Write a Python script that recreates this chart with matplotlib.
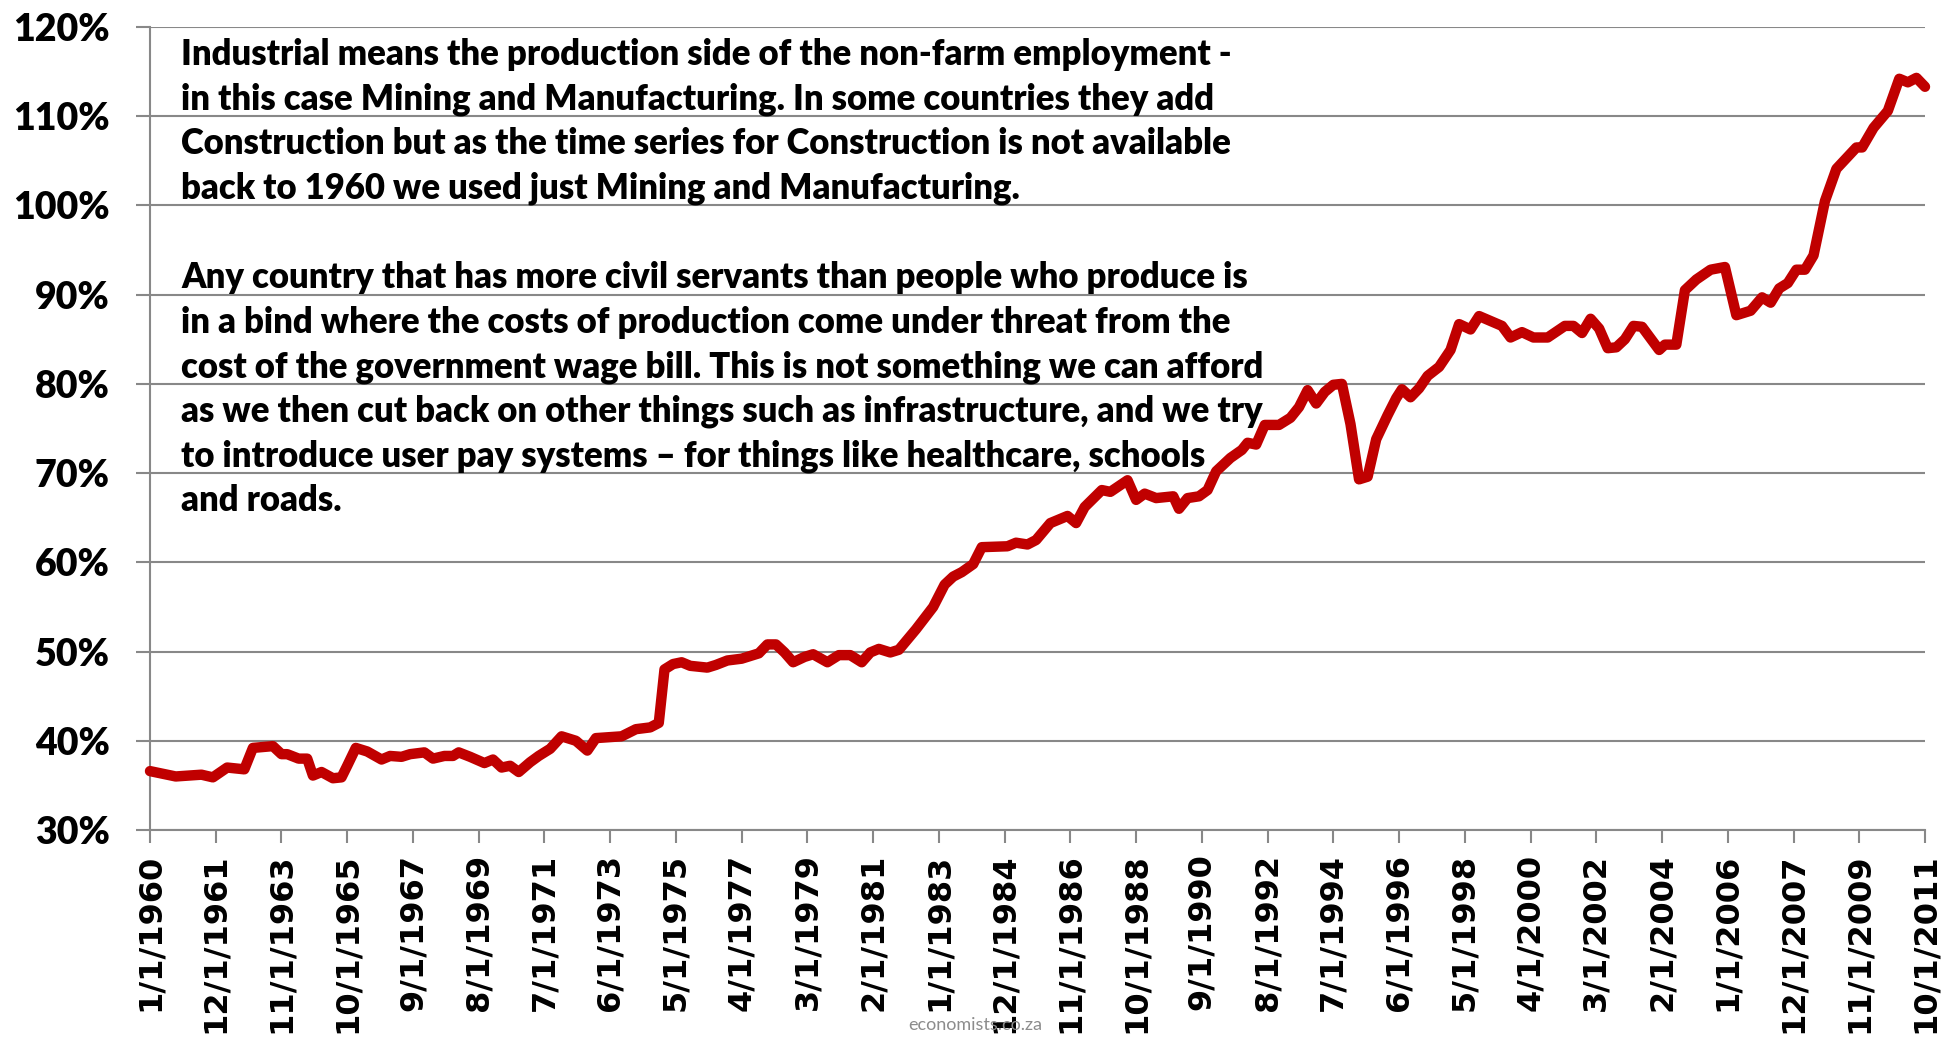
import matplotlib
matplotlib.use("Agg")
import matplotlib.pyplot as plt

# ---- data ----
dates = [
    "1960-01", "1960-10", "1961-07", "1961-11", "1962-04", "1962-10", "1963-01", "1963-08",
    "1963-11", "1964-01", "1964-05", "1964-08", "1964-10", "1965-01", "1965-05", "1965-08",
    "1965-10", "1966-01", "1966-05", "1966-10", "1967-01", "1967-05", "1967-08", "1968-01",
    "1968-04", "1968-08", "1968-11", "1969-01", "1969-05", "1969-10", "1970-01", "1970-04",
    "1970-07", "1970-10", "1971-02", "1971-05", "1971-09", "1972-01", "1972-06", "1972-10",
    "1973-01", "1973-10", "1974-03", "1974-08", "1974-11", "1975-01", "1975-04", "1975-07",
    "1975-10", "1976-04", "1976-07", "1976-11", "1977-04", "1977-10", "1978-01", "1978-04",
    "1978-07", "1978-10", "1979-02", "1979-05", "1979-10", "1980-02", "1980-06", "1980-10",
    "1981-01", "1981-04", "1981-08", "1981-11", "1982-05", "1982-11", "1983-03", "1983-06",
    "1983-09", "1984-01", "1984-04", "1985-01", "1985-04", "1985-08", "1985-11", "1986-04",
    "1986-10", "1987-01", "1987-04", "1987-10", "1988-01", "1988-07", "1988-10", "1989-01",
    "1989-05", "1989-11", "1990-01", "1990-04", "1990-08", "1990-11", "1991-02", "1991-07",
    "1991-11", "1992-01", "1992-04", "1992-07", "1992-12", "1993-04", "1993-07", "1993-10",
    "1994-01", "1994-04", "1994-07", "1994-10", "1995-01", "1995-04", "1995-07", "1995-10",
    "1996-02", "1996-05", "1996-07", "1996-10", "1997-01", "1997-04", "1997-08", "1997-12",
    "1998-03", "1998-07", "1998-10", "1999-06", "1999-09", "2000-01", "2000-05", "2000-10",
    "2001-04", "2001-07", "2001-10", "2002-01", "2002-04", "2002-07", "2002-10", "2003-01",
    "2003-04", "2003-07", "2004-01", "2004-03", "2004-07", "2004-10", "2005-02", "2005-07",
    "2005-12", "2006-04", "2006-09", "2007-01", "2007-04", "2007-07", "2007-10", "2008-01",
    "2008-04", "2008-07", "2008-11", "2009-03", "2009-10", "2009-12", "2010-04", "2010-09",
    "2011-01", "2011-04", "2011-07", "2011-10",
]
values = [
    36.6, 36.0, 36.2, 35.9, 37.0, 36.8, 39.2, 39.4,
    38.5, 38.5, 38.0, 38.0, 36.1, 36.5, 35.8, 35.9,
    37.2, 39.2, 38.8, 37.9, 38.3, 38.2, 38.5, 38.7,
    38.0, 38.3, 38.3, 38.7, 38.2, 37.5, 37.9, 37.0,
    37.2, 36.5, 37.6, 38.3, 39.1, 40.5, 40.0, 38.9,
    40.3, 40.5, 41.3, 41.5, 42.0, 48.0, 48.6, 48.8,
    48.4, 48.2, 48.5, 49.0, 49.2, 49.8, 50.8, 50.8,
    49.9, 48.8, 49.4, 49.7, 48.8, 49.6, 49.6, 48.8,
    49.9, 50.3, 49.9, 50.2, 52.5, 55.0, 57.5, 58.4,
    58.9, 59.8, 61.7, 61.8, 62.2, 62.0, 62.5, 64.4,
    65.2, 64.4, 66.2, 68.1, 67.9, 69.2, 67.0, 67.7,
    67.2, 67.4, 66.0, 67.2, 67.4, 68.1, 70.2, 71.7,
    72.6, 73.4, 73.2, 75.4, 75.4, 76.2, 77.4, 79.3,
    77.8, 79.1, 79.9, 80.0, 75.5, 69.3, 69.6, 73.8,
    76.5, 78.4, 79.4, 78.5, 79.5, 80.9, 81.9, 83.8,
    86.7, 86.1, 87.6, 86.5, 85.2, 85.8, 85.2, 85.2,
    86.5, 86.5, 85.7, 87.3, 86.2, 84.0, 84.1, 85.0,
    86.5, 86.4, 83.8, 84.4, 84.4, 90.5, 91.7, 92.8,
    93.1, 87.7, 88.2, 89.7, 89.1, 90.7, 91.3, 92.8,
    92.8, 94.4, 100.5, 104.1, 106.5, 106.5, 108.7, 110.6,
    114.2, 113.8, 114.3, 113.3,
]
tick_labels = [
    "1/1/1960", "12/1/1961", "11/1/1963", "10/1/1965", "9/1/1967", "8/1/1969",
    "7/1/1971", "6/1/1973", "5/1/1975", "4/1/1977", "3/1/1979", "2/1/1981",
    "1/1/1983", "12/1/1984", "11/1/1986", "10/1/1988", "9/1/1990", "8/1/1992",
    "7/1/1994", "6/1/1996", "5/1/1998", "4/1/2000", "3/1/2002", "2/1/2004",
    "1/1/2006", "12/1/2007", "11/1/2009", "10/1/2011",
]
y_ticks = [30, 40, 50, 60, 70, 80, 90, 100, 110, 120]
start_date = "1960-01"
end_date = "2011-10"
note_lines = [
    "Industrial means the production side of the non-farm employment -",
    "in this case Mining and Manufacturing. In some countries they add",
    "Construction but as the time series for Construction is not available",
    "back to 1960 we used just Mining and Manufacturing.",
    "",
    "Any country that has more civil servants than people who produce is",
    "in a bind where the costs of production come under threat from the",
    "cost of the government wage bill. This is not something we can afford",
    "as we then cut back on other things such as infrastructure, and we try",
    "to introduce user pay systems \u2013 for things like healthcare, schools",
    "and roads.",
]
watermark = "economists.co.za"


def month_index(s, origin="1960-01"):
    y, m = int(s[:4]), int(s[5:7])
    oy, om = int(origin[:4]), int(origin[5:7])
    return (y - oy) * 12 + (m - om)


def label_index(lbl):
    m, d, y = lbl.split("/")
    return month_index(f"{int(y):04d}-{int(m):02d}")


x = [month_index(d) for d in dates]
tick_pos = [label_index(t) for t in tick_labels]

W, H = 1955, 1046
fig = plt.figure(figsize=(W / 100, H / 100), dpi=100)
L, R, T, B = 150, 1925, 27, 830
ax = fig.add_axes([L / W, (H - B) / H, (R - L) / W, (B - T) / H])

grid_c = "#888888"
ax.set_xlim(month_index(start_date), month_index(end_date))
ax.set_ylim(30, 120)
ax.set_yticks(y_ticks)
ax.set_yticklabels([f"{v}%" for v in y_ticks], fontfamily="Lato", fontweight="heavy", fontsize=27)
ax.yaxis.grid(True, color=grid_c, linewidth=1.5)
ax.set_axisbelow(True)
ax.set_xticks(tick_pos)
ax.set_xticklabels(tick_labels, rotation=90, fontfamily="DejaVu Sans",
                   fontweight="bold", fontsize=23, va="top", ha="center")
for s in ["top", "right"]:
    ax.spines[s].set_visible(False)
for s in ["left", "bottom"]:
    ax.spines[s].set_color(grid_c)
    ax.spines[s].set_linewidth(1.5)
ax.tick_params(axis="x", direction="out", length=9, width=1.5, color=grid_c, pad=8)
ax.tick_params(axis="y", direction="out", length=10, width=1.5, color=grid_c, pad=19)

ax.plot(x, values, color="#C00000", linewidth=7.5, solid_joinstyle="round",
        solid_capstyle="round", clip_on=False, zorder=3)

# annotation text, one line at a time
base0, step = 65, 44.6
for i, line in enumerate(note_lines):
    if line:
        fig.text(181 / W, 1 - (base0 + i * step) / H, line, fontfamily="Lato",
                 fontweight="heavy", fontsize=24.9, va="baseline", ha="left")

fig.text(975 / W, 1 - 1025 / H, watermark, fontfamily="Lato", fontsize=13,
         color="#8c8c8c", ha="center", va="center")

fig.savefig("out.png", dpi=100)
